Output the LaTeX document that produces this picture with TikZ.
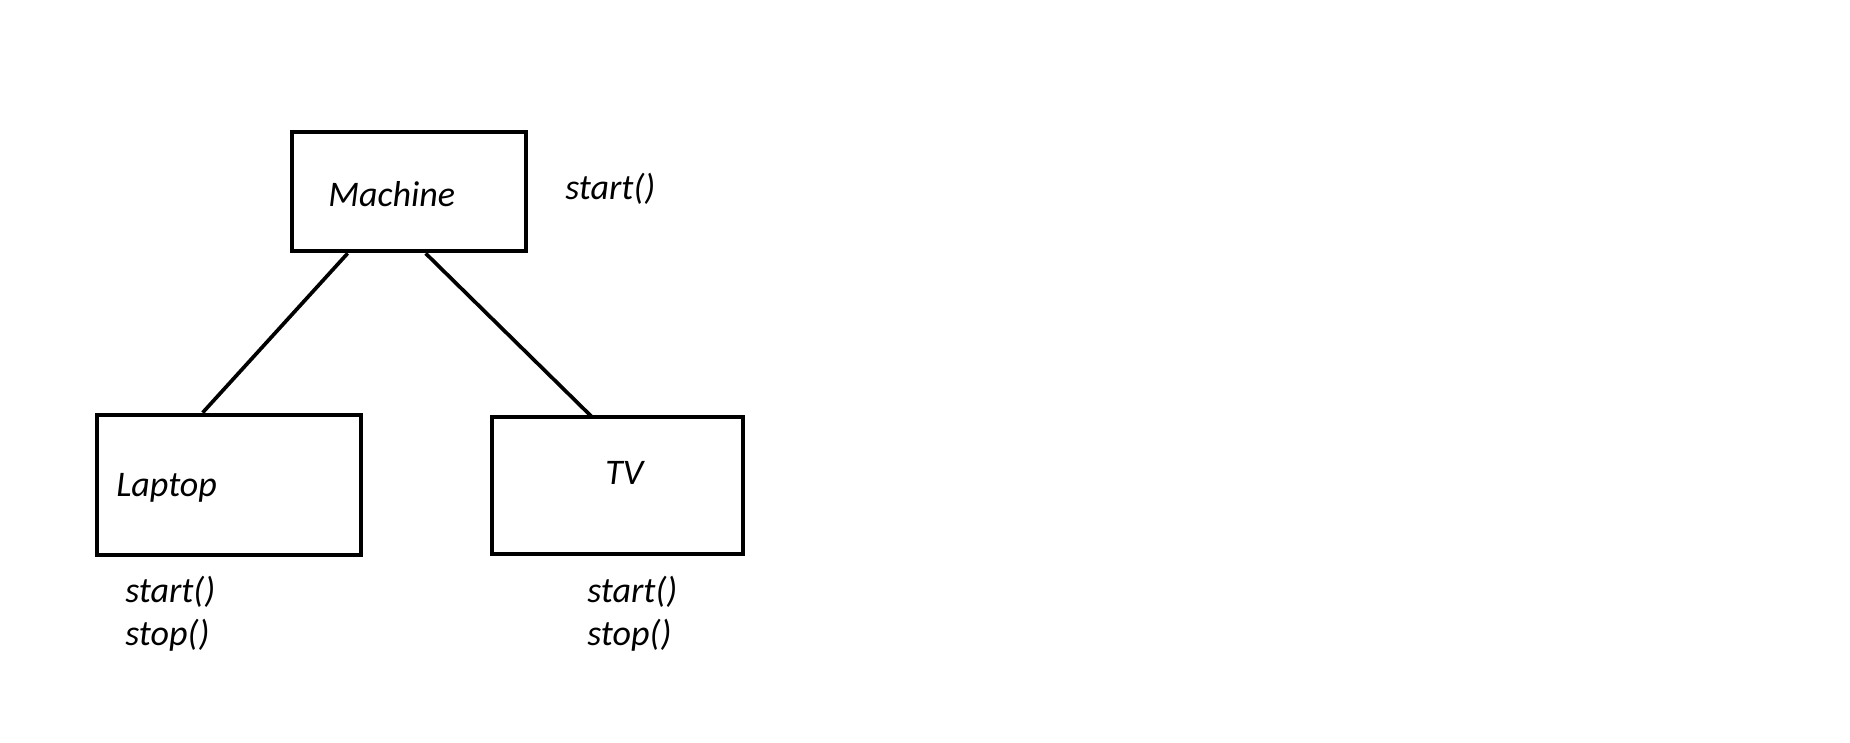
\documentclass[tikz,border=0pt]{standalone}
\usepackage{fontspec}
\setmainfont{Carlito}
\usetikzlibrary{calc}
\tikzset{classbox/.style={draw=black,line width=2.7pt,rectangle,inner sep=0pt}}
\tikzset{classname/.style={inner sep=0pt,anchor=base west,font=\fontsize{20.5}{24}\selectfont\itshape}}
\tikzset{method/.style={inner sep=0pt,anchor=base west,font=\fontsize{20.5}{24}\selectfont\itshape}}
\tikzset{link/.style={black,line width=2.1pt}}

\begin{document}
\begin{tikzpicture}[x=0.02cm,y=-0.02cm]
	\useasboundingbox (0,0) rectangle (1850,743);
	% boxes
	\node[classbox,minimum width=4.68cm,minimum height=2.38cm] (machine) at (409,191.5) {};
	\node[classbox,minimum width=5.28cm,minimum height=2.80cm] (laptop) at (229,485) {};
	\node[classbox,minimum width=5.02cm,minimum height=2.74cm] (tv) at (617.5,485.5) {};
	% names
	\node[classname] (machinename) at (328,207) {Machine};
	\node[classname] (laptopname) at (116,496) {Laptop};
	\node[classname] (tvname) at (605,484) {TV};
	% methods
	\node[method] (machinestart) at (565,200) {start()};
	\node[method] (laptopstart) at (125,602) {start()};
	\node[method] (laptopstop) at (125,645) {stop()};
	\node[method] (tvstart) at (587,602) {start()};
	\node[method] (tvstop) at (587,645) {stop()};
	% links
	\draw[link] ($(machine.south west)+(58,0)$) -- ($(laptop.north west)+(108,0)$);
	\draw[link] ($(machine.south west)+(136,0)$) -- ($(tv.north west)+(103,3)$);
\end{tikzpicture}
\end{document}
